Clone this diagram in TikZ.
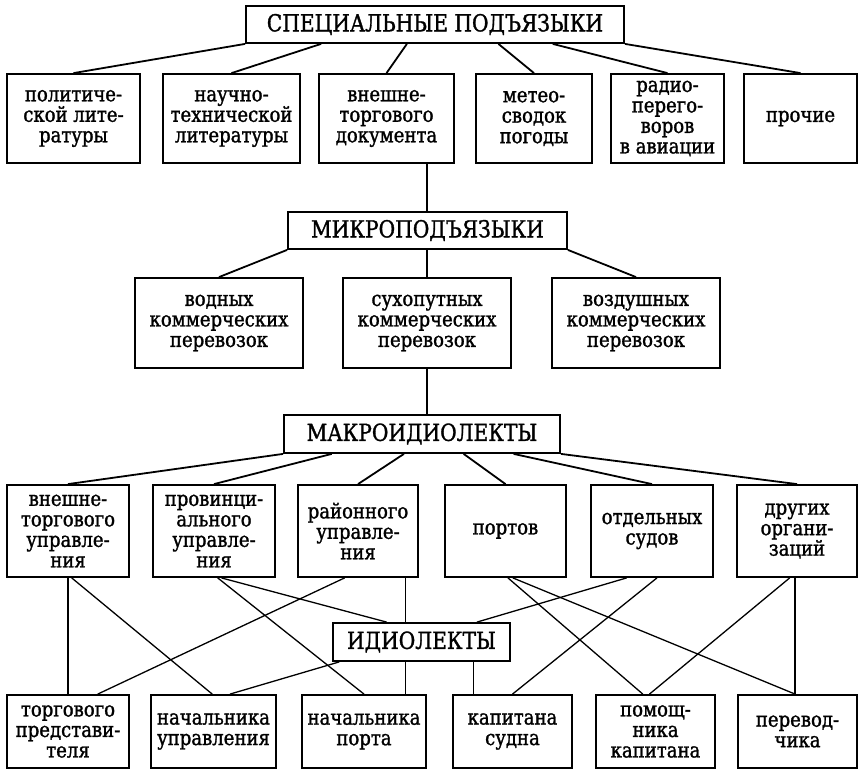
\documentclass[tikz,border=0pt]{standalone}
\usepackage{fontspec}
\setmainfont{DejaVu Serif}[FakeStretch=0.86, FakeBold=1.3]
\usetikzlibrary{calc}
\begin{document}
\begin{tikzpicture}[x=1pt,y=-1pt,
  box/.style={draw, line width=1.8pt, inner sep=0pt, align=center, font=\fontsize{21}{20.5}\selectfont},
  head/.style={box, font=\fontsize{23.5}{25}\selectfont},
  thicklink/.style={line width=1.8pt},
  thinlink/.style={line width=1.3pt}]
\useasboundingbox (0,0) rectangle (860,771);

% level 0
\node[head, minimum width=378pt, minimum height=37pt] (top) at (435,24.5) {СПЕЦИАЛЬНЫЕ ПОДЪЯЗЫКИ};
% row 1
\node[box, minimum width=133pt, minimum height=89pt] (r1a) at (73.5,118.5) {политиче-\\ской лите-\\ратуры};
\node[box, minimum width=137pt, minimum height=89pt] (r1b) at (231.5,118.5) {научно-\\технической\\литературы};
\node[box, minimum width=135pt, minimum height=89pt] (r1c) at (386.5,118.5) {внешне-\\торгового\\документа};
\node[box, minimum width=116pt, minimum height=89pt] (r1d) at (534,118.5) {метео-\\сводок\\погоды};
\node[box, minimum width=113pt, minimum height=89pt] (r1e) at (667.5,118.5) {радио-\\перего-\\воров\\в авиации};
\node[box, minimum width=113pt, minimum height=89pt] (r1f) at (800.5,118.5) {прочие};

% micro
\node[head, minimum width=279pt, minimum height=37pt] (mikro) at (427.5,230.5) {МИКРОПОДЪЯЗЫКИ};
\node[box, minimum width=168pt, minimum height=90pt] (r2a) at (219,323) {водных\\коммерческих\\перевозок};
\node[box, minimum width=168pt, minimum height=90pt] (r2b) at (427,323) {сухопутных\\коммерческих\\перевозок};
\node[box, minimum width=168pt, minimum height=90pt] (r2c) at (636,323) {воздушных\\коммерческих\\перевозок};

% macro
\node[head, minimum width=276pt, minimum height=38pt] (makro) at (422,434) {МАКРОИДИОЛЕКТЫ};
\node[box, minimum width=122pt, minimum height=92pt] (r3a) at (68,531) {внешне-\\торгового\\управле-\\ния};
\node[box, minimum width=122pt, minimum height=92pt] (r3b) at (214,531) {провинци-\\ального\\управле-\\ния};
\node[box, minimum width=120pt, minimum height=92pt] (r3c) at (358,531) {районного\\управле-\\ния};
\node[box, minimum width=121pt, minimum height=92pt] (r3d) at (505.5,531) {портов};
\node[box, minimum width=122pt, minimum height=92pt] (r3e) at (652,531) {отдельных\\судов};
\node[box, minimum width=120pt, minimum height=92pt] (r3f) at (797,531) {других\\органи-\\заций};

% idio
\node[head, minimum width=177pt, minimum height=38pt] (idio) at (421.5,642) {ИДИОЛЕКТЫ};
\node[box, minimum width=122pt, minimum height=73pt] (r4a) at (68,731.5) {торгового\\представи-\\теля};
\node[box, minimum width=125pt, minimum height=73pt] (r4b) at (213.5,731.5) {начальника\\управления};
\node[box, minimum width=124pt, minimum height=73pt] (r4c) at (364,731.5) {начальника\\порта};
\node[box, minimum width=119pt, minimum height=73pt] (r4d) at (512.5,731.5) {капитана\\судна};
\node[box, minimum width=119pt, minimum height=73pt] (r4e) at (655.5,731.5) {помощ-\\ника\\капитана};
\node[box, minimum width=119pt, minimum height=73pt] (r4f) at (797.5,731.5) {перевод-\\чика};

% top connectors
\draw[thicklink] (top.south west) -- (r1a.north);
\draw[thicklink] ($(top.south west)!0.2!(top.south east)$) -- (r1b.north);
\draw[thicklink] ($(top.south west)!0.426!(top.south east)$) -- (r1c.north);
\draw[thicklink] ($(top.south west)!0.667!(top.south east)$) -- (r1d.north);
\draw[thicklink] ($(top.south west)!0.81!(top.south east)$) -- (r1e.north);
\draw[thicklink] (top.south east) -- (r1f.north);

% spine
\draw[thinlink] (r1c.south -| r2b.north) -- (mikro.north -| r2b.north);
\draw[thinlink] (mikro.south -| r2b.north) -- (r2b.north);
\draw[thinlink] (r2b.south) -- (r2b.south |- makro.north);

% micro connectors
\draw[thicklink] (mikro.south west) -- (r2a.north);
\draw[thicklink] (mikro.south east) -- (r2c.north);

% macro connectors
\draw[thicklink] (makro.south west) -- (r3a.north);
\draw[thicklink] ($(makro.south west)!0.175!(makro.south east)$) -- (r3b.north);
\draw[thicklink] ($(makro.south west)!0.435!(makro.south east)$) -- (r3c.north);
\draw[thicklink] ($(makro.south west)!0.65!(makro.south east)$) -- (r3d.north);
\draw[thicklink] ($(makro.south west)!0.83!(makro.south east)$) -- (r3e.north);
\draw[thicklink] (makro.south east) -- (r3f.north);

% bottom network
\draw[thinlink] (r3a.south) -- (r4a.north);
\draw[thinlink] ($(r3a.south west)!0.53!(r3a.south east)$) -- ($(r4b.north west)!0.49!(r4b.north east)$);
\draw[thinlink] ($(r3b.south west)!0.53!(r3b.south east)$) -- (r4c.north);
\draw[thinlink] ($(r3b.south west)!0.56!(r3b.south east)$) -- ($(idio.north west)!0.305!(idio.north east)$);
\draw[thinlink] ($(r3c.south west)!0.39!(r3c.south east)$) -- ($(r4a.north west)!0.74!(r4a.north east)$);
\path ($(idio.north west)!0.41!(idio.north east)$) coordinate (iv1);
\draw[thinlink] (iv1 |- r3c.south) -- (iv1);
\draw[thinlink] (iv1 |- idio.south) -- (iv1 |- r4c.north);
\draw[thinlink] ($(idio.south west)!0.04!(idio.south east)$) -- ($(r4b.north west)!0.63!(r4b.north east)$);
\draw[thinlink] ($(r3d.south west)!0.52!(r3d.south east)$) -- ($(r4e.north west)!0.395!(r4e.north east)$);
\draw[thinlink] ($(r3d.south west)!0.56!(r3d.south east)$) -- ($(r4f.north west)!0.48!(r4f.north east)$);
\draw[thinlink] ($(r3e.south west)!0.295!(r3e.south east)$) -- ($(idio.north west)!0.81!(idio.north east)$);
\draw[thinlink] ($(r3e.south west)!0.54!(r3e.south east)$) -- (r4d.north);
\draw[thinlink] ($(r3f.south west)!0.44!(r3f.south east)$) -- ($(r4e.north west)!0.45!(r4e.north east)$);
\path ($(r4f.north west)!0.48!(r4f.north east)$) coordinate (iv3);
\draw[thinlink] (iv3 |- r3f.south) -- (iv3);
\path ($(idio.south west)!0.79!(idio.south east)$) coordinate (iv2);
\draw[thinlink] (iv2) -- (iv2 |- r4d.north);
\end{tikzpicture}
\end{document}
